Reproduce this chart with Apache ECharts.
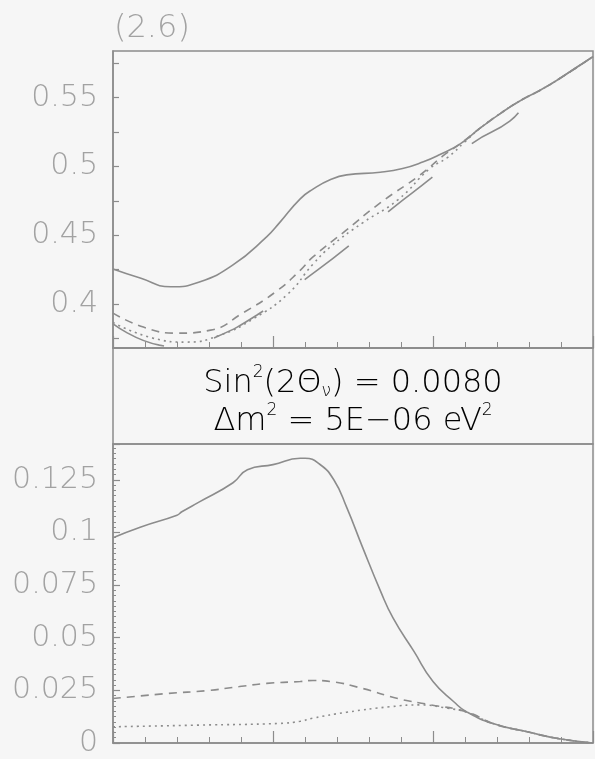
<!DOCTYPE html>
<html>
<head>
<meta charset="utf-8">
<script src="https://cdn.jsdelivr.net/npm/echarts@6/dist/echarts.min.js"></script>
<style>html,body{margin:0;padding:0;background:#f6f6f6;}#c{width:595px;height:759px;}</style>
</head>
<body>
<div id="c"></div>
<script>
// ---- Top panel data [x, value] ----
const topSolid = [[0,0.4255],[0.17,0.4189],[0.36,0.4125],[0.54,0.416],[0.75,0.4284],[0.96,0.4488],[1.04,0.459],[1.17,0.4765],[1.25,0.4835],[1.36,0.4905],[1.46,0.4939],[1.67,0.4958],[1.81,0.4985],[1.94,0.5034],[2.04,0.5085],[2.17,0.5165],[2.29,0.5275],[2.42,0.5385],[2.54,0.5475],[2.67,0.5555],[2.78,0.5631],[3.0,0.5799]];
const topDashed = [[0,0.3934],[0.19,0.3832],[0.40,0.3788],[0.61,0.381],[0.81,0.3934],[1.03,0.410],[1.17,0.4245],[1.25,0.4342],[1.46,0.4539],[1.67,0.4735],[1.92,0.4939],[2.06,0.5075],[2.17,0.5165],[2.29,0.5275],[2.42,0.5385],[2.54,0.5475],[2.67,0.5555],[2.78,0.5631],[3.0,0.5799]];
const topDotted = [[0,0.3865],[0.25,0.3752],[0.46,0.3723],[0.67,0.3774],[0.88,0.3895],[1.09,0.407],[1.25,0.429],[1.36,0.4417],[1.56,0.459],[1.78,0.4757],[1.98,0.4985],[2.09,0.5065],[2.20,0.518],[2.29,0.5275],[2.42,0.5385],[2.54,0.5475],[2.67,0.5555],[2.78,0.5631],[3.0,0.5799]];
const topLongDash = [[0,0.3855],[0.29,0.3701],[0.45,0.3685],[0.63,0.3752],[0.90,0.392],[1.17,0.4153],[1.48,0.4429],[1.75,0.4699],[1.99,0.4917],[2.25,0.5172],[2.48,0.5330],[2.60,0.5480],[2.70,0.5560],[2.78,0.5631],[3.0,0.5799]];
// ---- Bottom panel data [x, value] ----
const botSolid = [[0,0.0975],[0.17,0.1025],[0.40,0.1082],[0.43,0.1098],[0.54,0.1145],[0.75,0.1236],[0.84,0.1298],[1.00,0.1322],[1.17,0.1352],[1.20,0.1352],[1.29,0.1325],[1.38,0.125],[1.46,0.112],[1.56,0.0929],[1.67,0.0725],[1.75,0.0594],[1.88,0.0436],[2.00,0.0292],[2.13,0.0196],[2.21,0.0148],[2.38,0.0091],[2.59,0.0053],[2.79,0.002],[3.0,0.0]];
const botDashed = [[0,0.0211],[0.34,0.0235],[0.59,0.0249],[0.79,0.0268],[0.96,0.0283],[1.17,0.0292],[1.25,0.0297],[1.36,0.0292],[1.56,0.0259],[1.78,0.0211],[1.98,0.0182],[2.21,0.0148],[2.38,0.0091],[2.59,0.0053],[2.79,0.002],[3.0,0.0]];
const botDotted = [[0,0.0077],[0.54,0.0085],[1.04,0.0093],[1.17,0.0103],[1.25,0.0118],[1.46,0.0146],[1.73,0.0172],[1.92,0.0181],[2.09,0.0165],[2.21,0.0146],[2.38,0.0091],[2.59,0.0053],[2.79,0.002],[3.0,0.0]];
// ---- Tick labels ----
const topLabels = [0.4,0.45,0.5,0.55];
const topTicks = [0.375,0.4,0.425,0.45,0.475,0.5,0.525,0.55,0.575];
const titleText = '(2.6)';
const infoLine1 = '{a|Sin}{s|2}{a|(2Θ}{b|ν}{a|) = 0.0080}';
const infoLine2 = '{a|Δm}{s|2}{a| = 5E−06 eV}{s|2}';

const INK = '#8c8c8c', TXT = '#a2a2a2';
const FONT = 'DejaVu Sans';
const FW = 200;
const fmt = v => String(+(+v).toFixed(4));
const labelStyle = {color: TXT, fontFamily: FONT, fontWeight: FW, fontSize: 30, margin: 15, formatter: fmt};

function xAxisFor(gi) {
  return {
    type: 'value', gridIndex: gi, min: 0, max: 3, interval: 1,
    axisLine: {show: true, lineStyle: {color: INK, width: 1.5}},
    axisTick: {show: true, inside: true, length: 12, lineStyle: {color: INK, width: 1.2}},
    minorTick: {show: true, splitNumber: 5, length: 6, lineStyle: {color: INK, width: 1}},
    axisLabel: {show: false}, splitLine: {show: false}
  };
}
function line(data, xi, yi, type, w) {
  return {
    type: 'line', xAxisIndex: xi, yAxisIndex: yi, data: data, showSymbol: false,
    smooth: 0.5, clip: true, silent: true,
    lineStyle: {color: INK, width: w || 1.6, type: type}
  };
}

const chart = echarts.init(document.getElementById('c'), null, {renderer: 'canvas'});
const richBase = {fontFamily: FONT, fontWeight: FW, color: TXT, lineHeight: 36};
chart.setOption({
  backgroundColor: '#f6f6f6',
  animation: false,
  grid: [
    {left: 113, top: 51, width: 480, height: 297, show: true, borderColor: INK, borderWidth: 1.5},
    {left: 113, top: 444, width: 480, height: 299, show: true, borderColor: INK, borderWidth: 1.5}
  ],
  xAxis: [xAxisFor(0), xAxisFor(1)],
  yAxis: [
    {
      type: 'value', gridIndex: 0, min: 0.368, max: 0.584,
      axisLine: {show: true, lineStyle: {color: INK, width: 1.5}},
      axisTick: {show: true, inside: true, length: 6, customValues: topTicks, lineStyle: {color: INK, width: 1.2}},
      axisLabel: Object.assign({customValues: topLabels}, labelStyle),
      splitLine: {show: false}
    },
    {
      type: 'value', gridIndex: 1, min: 0, max: 0.142, interval: 0.025,
      axisLine: {show: true, lineStyle: {color: INK, width: 1.5}},
      axisTick: {show: true, inside: true, length: 7, lineStyle: {color: INK, width: 1.2}},
      minorTick: {show: true, splitNumber: 10, length: 3, lineStyle: {color: INK, width: 1}},
      axisLabel: Object.assign({showMaxLabel: false}, labelStyle),
      splitLine: {show: false}
    }
  ],
  series: [
    line(topSolid, 0, 0, 'solid'),
    line(topDashed, 0, 0, [8, 6]),
    line(topDotted, 0, 0, [2, 4]),
    line(topLongDash, 0, 0, [56, 52]),
    line(botSolid, 1, 1, 'solid'),
    line(botDashed, 1, 1, [8, 6]),
    line(botDotted, 1, 1, [2, 4])
  ],
  graphic: [
    {type: 'rect', shape: {x: 113, y: 348, width: 480, height: 96}, style: {fill: 'none', stroke: INK, lineWidth: 1.5}, silent: true},
    {type: 'text', style: {text: titleText, x: 114, y: 29, verticalAlign: 'middle', fill: TXT, fontFamily: FONT, fontWeight: FW, fontSize: 32}},
    {type: 'text', style: {text: infoLine1, x: 353, y: 382, align: 'center', verticalAlign: 'middle',
      rich: {a: Object.assign({fontSize: 32, verticalAlign: 'bottom'}, richBase),
             s: Object.assign({fontSize: 17, verticalAlign: 'top'}, richBase),
             b: Object.assign({fontSize: 17, verticalAlign: 'bottom'}, richBase)}}},
    {type: 'text', style: {text: infoLine2, x: 353, y: 420, align: 'center', verticalAlign: 'middle',
      rich: {a: Object.assign({fontSize: 32, verticalAlign: 'bottom'}, richBase),
             s: Object.assign({fontSize: 17, verticalAlign: 'top'}, richBase)}}}
  ]
});
</script>
</body>
</html>
